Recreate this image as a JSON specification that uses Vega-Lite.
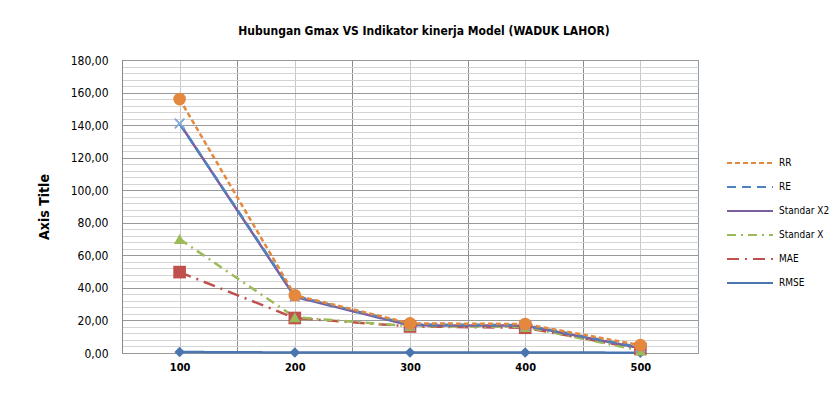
{
  "$schema": "https://vega.github.io/schema/vega-lite/v6.json",
  "width": 576,
  "height": 293,
  "padding": {"left": 37, "top": 25, "right": 20, "bottom": 20},
  "background": "white",
  "config": {
    "font": "DejaVu Sans Condensed, Liberation Sans, sans-serif",
    "view": {"stroke": "#8a9bb8", "strokeWidth": 1}
  },
  "title": {
    "text": "Hubungan Gmax VS Indikator kinerja Model (WADUK LAHOR)",
    "fontSize": 12,
    "fontWeight": "bold",
    "font": "DejaVu Sans Condensed, Liberation Sans, sans-serif",
    "color": "#000000",
    "anchor": "middle",
    "dx": 14,
    "offset": 16
  },
  "data": {
    "values": [
      {"series": "RMSE", "gmax": 100, "value": 0.6},
      {"series": "RMSE", "gmax": 200, "value": 0.3},
      {"series": "RMSE", "gmax": 300, "value": 0.3},
      {"series": "RMSE", "gmax": 400, "value": 0.3},
      {"series": "RMSE", "gmax": 500, "value": 0.2},
      {"series": "MAE", "gmax": 100, "value": 49.7},
      {"series": "MAE", "gmax": 200, "value": 21.5},
      {"series": "MAE", "gmax": 300, "value": 16.3},
      {"series": "MAE", "gmax": 400, "value": 15.5},
      {"series": "MAE", "gmax": 500, "value": 2.5},
      {"series": "Standar X", "gmax": 100, "value": 70},
      {"series": "Standar X", "gmax": 200, "value": 22},
      {"series": "Standar X", "gmax": 300, "value": 16.5},
      {"series": "Standar X", "gmax": 400, "value": 16},
      {"series": "Standar X", "gmax": 500, "value": 1.5},
      {"series": "Standar X2", "gmax": 100, "value": 141},
      {"series": "Standar X2", "gmax": 200, "value": 34.5},
      {"series": "Standar X2", "gmax": 300, "value": 17},
      {"series": "Standar X2", "gmax": 400, "value": 16.8},
      {"series": "Standar X2", "gmax": 500, "value": 3},
      {"series": "RE", "gmax": 100, "value": 141},
      {"series": "RE", "gmax": 200, "value": 35},
      {"series": "RE", "gmax": 300, "value": 17.5},
      {"series": "RE", "gmax": 400, "value": 17.2},
      {"series": "RE", "gmax": 500, "value": 3.5},
      {"series": "RR", "gmax": 100, "value": 156},
      {"series": "RR", "gmax": 200, "value": 35.5},
      {"series": "RR", "gmax": 300, "value": 18.2},
      {"series": "RR", "gmax": 400, "value": 17.8},
      {"series": "RR", "gmax": 500, "value": 4.8}
    ]
  },
  "encoding": {
    "x": {
      "field": "gmax",
      "type": "quantitative",
      "scale": {"domain": [50, 550], "nice": false, "zero": false},
      "axis": {
        "title": null,
        "values": [100, 150, 200, 250, 300, 350, 400, 450, 500],
        "labelExpr": "datum.value % 100 === 0 ? datum.value : ''",
        "ticks": false,
        "domain": false,
        "labelPadding": 8,
        "labelFontSize": 11,
        "labelFontWeight": "bold",
        "labelColor": "#000000",
        "gridColor": {"condition": {"test": "datum.value % 100 === 50", "value": "#8c8c8c"}, "value": "#c8c8c8"},
        "gridOpacity": 1
      }
    },
    "y": {
      "field": "value",
      "type": "quantitative",
      "scale": {"domain": [0, 180], "nice": false},
      "axis": {
        "title": "Axis Title",
        "titleFontSize": 14,
        "titleFontWeight": "bold",
        "titleColor": "#000000",
        "titlePadding": 19,
        "values": [0,4,8,12,16,20,24,28,32,36,40,44,48,52,56,60,64,68,72,76,80,84,88,92,96,100,104,108,112,116,120,124,128,132,136,140,144,148,152,156,160,164,168,172,176,180],
        "labelExpr": "datum.value % 20 === 0 ? replace(format(datum.value, '.2f'), '.', ',') : ''",
        "ticks": false,
        "domainColor": "#888888",
        "labelPadding": 14,
        "labelFontSize": 12,
        "labelColor": "#000000",
        "gridColor": {"condition": {"test": "datum.value % 20 === 0", "value": "#999999"}, "value": "#d4d4d4"},
        "gridOpacity": 1
      }
    }
  },
  "layer": [
    {
      "mark": {"type": "line", "strokeWidth": 2.5},
      "encoding": {
        "color": {
          "field": "series",
          "type": "nominal",
          "scale": {
            "domain": ["RR", "RE", "Standar X2", "Standar X", "MAE", "RMSE"],
            "range": ["#E3883C", "#4F81BD", "#7A5E9E", "#9BBB59", "#C0504D", "#4A76B0"]
          },
          "legend": {
            "title": null,
            "orient": "none",
            "legendX": 617,
            "legendY": 92,
            "symbolType": "M-2.3,0L2.3,0",
            "symbolSize": 400,
            "symbolStrokeWidth": 2,
            "symbolFillColor": "transparent",
            "rowPadding": 8,
            "labelFontSize": 10,
            "labelColor": "#000000",
            "labelOffset": 18
          }
        },
        "strokeDash": {
          "field": "series",
          "type": "nominal",
          "scale": {
            "domain": ["RR", "RE", "Standar X2", "Standar X", "MAE", "RMSE"],
            "range": [[5, 3], [9, 6], [1, 0], [9, 5, 2, 5], [12, 6, 2, 6], [1, 0]]
          }
        }
      }
    },
    {
      "transform": [{"filter": "datum.series === 'RMSE'"}],
      "mark": {"type": "point", "filled": true, "opacity": 1, "shape": "diamond", "size": 110, "color": "#4A76B0"}
    },
    {
      "transform": [{"filter": "datum.series === 'MAE'"}],
      "mark": {"type": "point", "filled": true, "opacity": 1, "shape": "square", "size": 160, "color": "#C0504D"}
    },
    {
      "transform": [{"filter": "datum.series === 'Standar X'"}],
      "mark": {"type": "point", "filled": true, "opacity": 1, "shape": "triangle-up", "size": 130, "color": "#9BBB59"}
    },
    {
      "transform": [{"filter": "datum.series === 'Standar X2'"}],
      "mark": {"type": "point", "filled": true, "opacity": 1, "shape": "M-1,-0.8L-0.8,-1L0,-0.2L0.8,-1L1,-0.8L0.2,0L1,0.8L0.8,1L0,0.2L-0.8,1L-1,0.8L-0.2,0Z", "size": 110, "color": "#9A84BC"}
    },
    {
      "transform": [{"filter": "datum.series === 'RE'"}],
      "mark": {"type": "point", "filled": true, "opacity": 1, "shape": "M-1,-0.8L-0.8,-1L0,-0.2L0.8,-1L1,-0.8L0.2,0L1,0.8L0.8,1L0,0.2L-0.8,1L-1,0.8L-0.2,0Z", "size": 110, "color": "#7FB0D8"}
    },
    {
      "transform": [{"filter": "datum.series === 'RR'"}],
      "mark": {"type": "point", "filled": true, "opacity": 1, "shape": "circle", "size": 160, "color": "#E3883C"}
    }
  ]
}
